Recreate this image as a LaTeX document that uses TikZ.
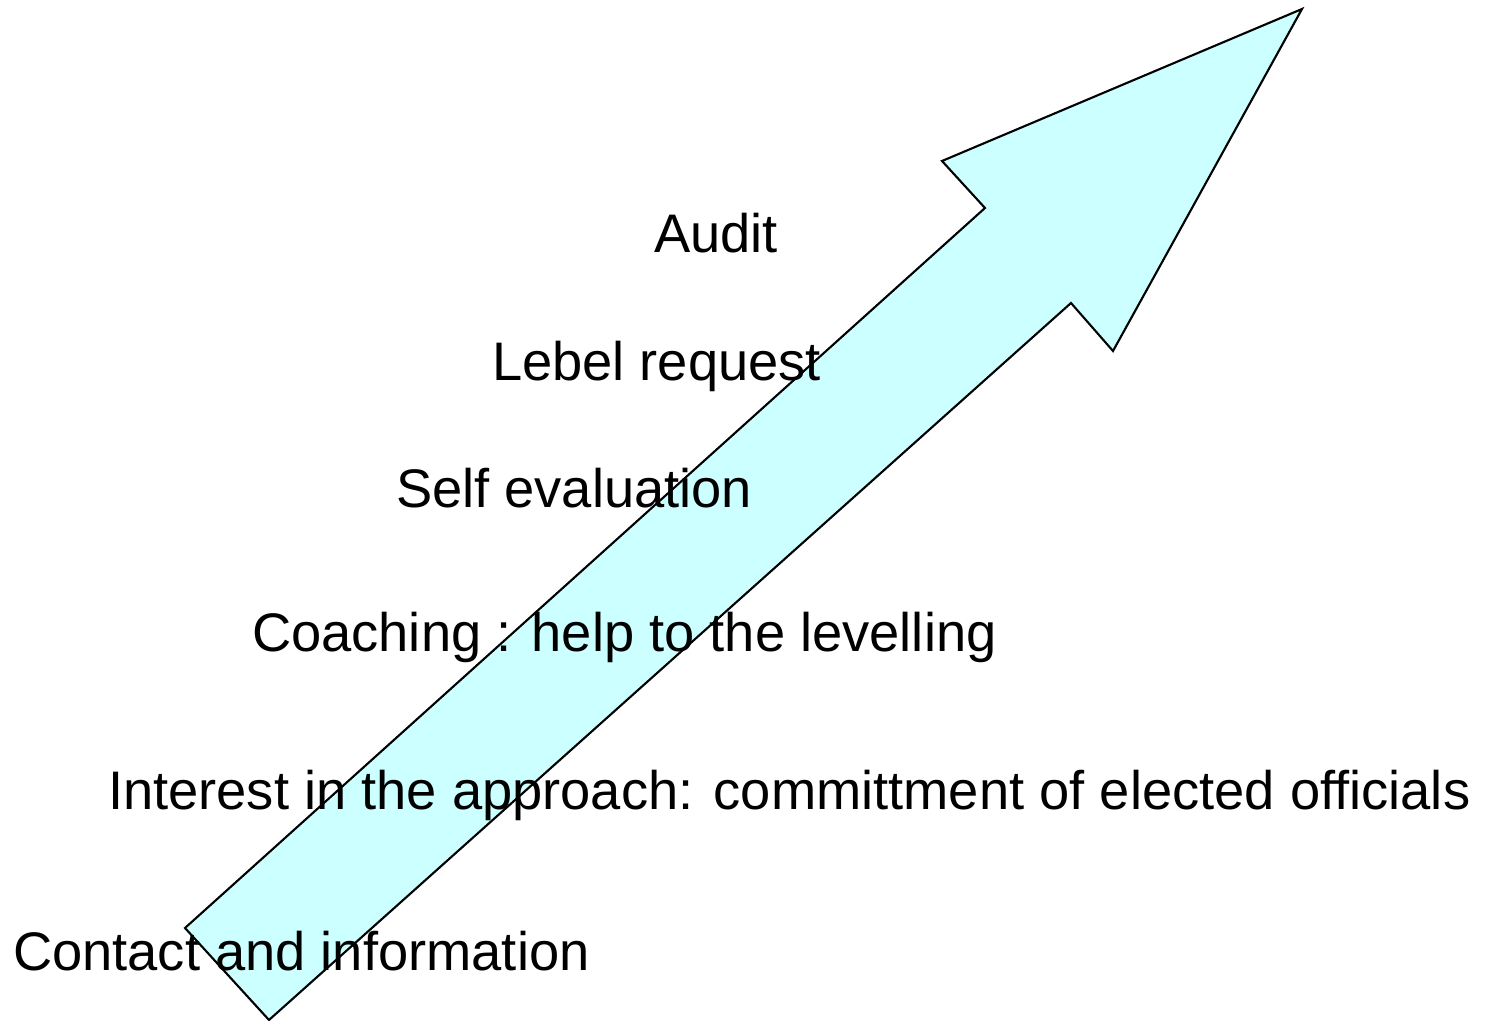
\documentclass[tikz,border=0pt]{standalone}
\usepackage{fontspec}
\setmainfont{Liberation Sans}
\usepackage{tikz}
\definecolor{arrowfill}{HTML}{CCFFFF}

\begin{document}
\begin{tikzpicture}[line width=0.6pt,
    step label/.style={anchor=base west,inner sep=0pt,font=\fontsize{15.45}{18}\selectfont}]
      \useasboundingbox (0,0) rectangle (14.88,10.21);
      % the big rising arrow
      \filldraw[fill=arrowfill,line join=miter] (1.85,0.93) -- (9.85,8.13) -- (9.42,8.60)
        -- (13.02,10.12) -- (11.13,6.70) -- (10.71,7.18) -- (2.69,0.01) -- cycle;
      % steps, bottom to top
      \node[step label] (contact) at (0.12,0.50){Contact and information};
      \node[step label] (interest) at (1.07,2.11){Interest in the approach: committment of elected officials};
      \node[step label] (coaching) at (2.51,3.69){Coaching : help to the levelling};
      \node[step label] (selfeval) at (3.95,5.13){Self evaluation};
      \node[step label] (request) at (4.91,6.40){Lebel request};
      \node[step label] (audit) at (6.53,7.68){Audit};
    \end{tikzpicture}
\end{document}
